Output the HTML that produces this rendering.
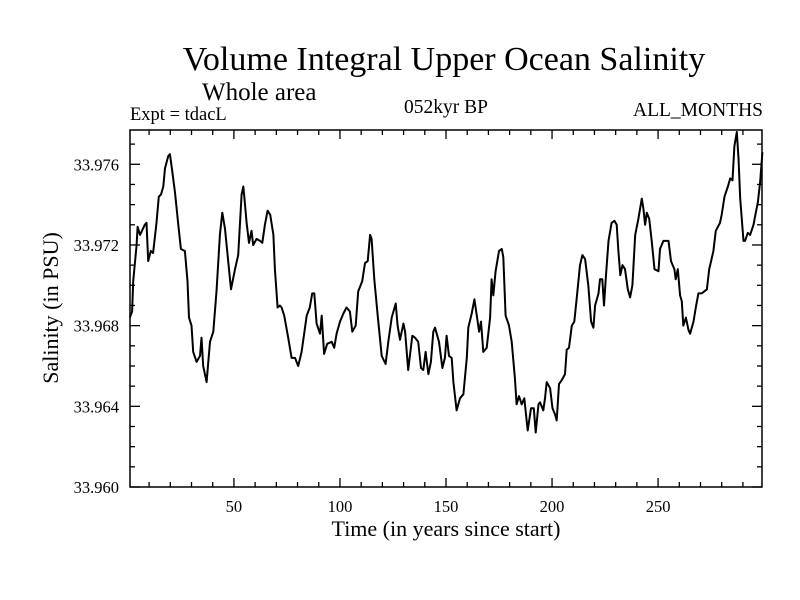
<!DOCTYPE html>
<html><head><meta charset="utf-8"><style>
html,body{margin:0;padding:0;background:#fff;}
svg{display:block;font-family:"Liberation Serif",serif;}
</style></head><body>
<svg id="chart" width="800" height="600">
<text x="444" y="70" font-size="34" text-anchor="middle">Volume Integral Upper Ocean Salinity</text>
<text x="202" y="100" font-size="25">Whole area</text>
<text x="130" y="120" font-size="18.5">Expt = tdacL</text>
<text x="446" y="113" font-size="19.5" text-anchor="middle">052kyr BP</text>
<text x="763" y="116" font-size="19.5" text-anchor="end">ALL_MONTHS</text>
<text x="446" y="536" font-size="22" text-anchor="middle">Time (in years since start)</text>
<text transform="translate(58,308) rotate(-90)" font-size="22" text-anchor="middle">Salinity (in PSU)</text>
<g id="axes"></g>
<path id="series" fill="none" stroke="#000" stroke-width="2" stroke-linejoin="round"></path>
<rect x="130" y="130" width="632" height="357" fill="none" stroke="#000" stroke-width="1.5"></rect>
</svg>
<script>
const years = [0.9,2.0,2.5,4.1,4.6,5.7,8.0,8.8,9.6,10.8,11.9,13.5,14.6,15.6,16.7,17.5,19.0,19.8,20.6,22.2,23.7,25.0,26.9,28.1,28.8,30.0,30.8,32.4,34.0,34.7,35.5,37.1,38.7,40.3,41.8,43.4,44.5,45.8,47.0,48.6,50.5,52.0,53.6,54.4,54.9,56.0,57.1,58.3,59.1,60.7,62.3,63.4,64.6,65.9,67.1,68.6,69.3,70.6,71.7,72.5,73.7,75.6,77.2,78.8,80.3,81.9,84.3,85.8,86.9,87.9,89.0,90.6,91.4,92.5,94.0,96.1,97.3,98.4,100.0,101.6,103.1,104.7,105.8,107.4,108.6,110.5,111.8,113.1,114.2,114.9,116.2,117.8,119.7,121.5,122.8,124.4,126.3,127.2,128.3,129.9,130.7,132.2,134.1,135.4,136.9,138.2,139.3,140.4,141.7,142.9,144.0,144.8,146.7,148.3,149.5,150.3,151.4,152.7,153.5,155.0,156.6,158.2,159.8,160.5,162.1,163.4,164.5,165.6,166.5,167.6,169.2,170.8,171.5,172.3,173.4,175.0,176.3,177.0,178.1,179.7,181.0,182.5,183.3,184.4,185.7,186.9,188.5,190.1,191.4,192.3,193.6,194.3,195.9,196.7,197.5,199.1,200.2,201.4,202.2,203.3,204.6,206.1,206.9,208.0,209.3,210.5,211.6,213.2,214.3,215.6,217.1,218.4,219.5,220.3,221.9,222.6,223.7,224.5,225.3,226.6,228.1,229.4,230.5,231.3,232.2,233.2,234.4,235.7,236.8,237.9,239.2,240.7,242.3,243.1,243.9,244.7,245.8,247.0,248.3,250.2,250.9,252.5,254.9,256.1,257.7,258.3,259.3,260.4,261.2,261.9,263.1,264.3,265.1,266.7,267.8,269.0,270.6,273.0,274.1,275.0,276.1,277.2,279.2,280.0,281.3,282.9,284.0,285.1,286.0,287.1,287.9,288.7,290.3,291.0,292.3,293.4,295.0,296.1,297.0,298.1,299.2];
const salinity = [33.9684,33.9687,33.9702,33.9720,33.9729,33.9725,33.9730,33.9731,33.9712,33.9717,33.9716,33.9731,33.9744,33.9745,33.9749,33.9758,33.9764,33.9765,33.9759,33.9746,33.9731,33.9718,33.9717,33.9702,33.9684,33.9680,33.9667,33.9662,33.9665,33.9674,33.9660,33.9652,33.9672,33.9677,33.9697,33.9725,33.9736,33.9728,33.9715,33.9698,33.9708,33.9715,33.9745,33.9749,33.9744,33.9731,33.9721,33.9727,33.9720,33.9723,33.9722,33.9721,33.9730,33.9737,33.9735,33.9725,33.9708,33.9689,33.9690,33.9689,33.9685,33.9674,33.9664,33.9664,33.9660,33.9667,33.9685,33.9689,33.9696,33.9696,33.9681,33.9676,33.9685,33.9666,33.9671,33.9672,33.9669,33.9676,33.9682,33.9686,33.9689,33.9687,33.9677,33.9680,33.9697,33.9702,33.9711,33.9712,33.9725,33.9723,33.9703,33.9685,33.9665,33.9661,33.9672,33.9684,33.9691,33.9680,33.9673,33.9681,33.9677,33.9658,33.9675,33.9674,33.9672,33.9659,33.9658,33.9667,33.9656,33.9662,33.9677,33.9679,33.9672,33.9659,33.9664,33.9675,33.9665,33.9664,33.9652,33.9638,33.9644,33.9646,33.9664,33.9679,33.9686,33.9693,33.9685,33.9677,33.9682,33.9667,33.9669,33.9684,33.9703,33.9695,33.9707,33.9717,33.9718,33.9714,33.9685,33.9680,33.9672,33.9654,33.9641,33.9645,33.9641,33.9644,33.9628,33.9639,33.9639,33.9627,33.9641,33.9642,33.9638,33.9644,33.9652,33.9649,33.9639,33.9636,33.9633,33.9651,33.9653,33.9656,33.9668,33.9669,33.9680,33.9682,33.9693,33.9710,33.9715,33.9713,33.9700,33.9682,33.9679,33.9690,33.9696,33.9703,33.9703,33.9690,33.9703,33.9722,33.9731,33.9732,33.9730,33.9717,33.9705,33.9710,33.9708,33.9698,33.9694,33.9700,33.9725,33.9733,33.9743,33.9738,33.9730,33.9736,33.9733,33.9722,33.9708,33.9707,33.9718,33.9722,33.9722,33.9712,33.9708,33.9703,33.9708,33.9695,33.9692,33.9680,33.9684,33.9678,33.9676,33.9682,33.9689,33.9696,33.9696,33.9698,33.9708,33.9712,33.9717,33.9727,33.9731,33.9735,33.9744,33.9749,33.9753,33.9752,33.9769,33.9776,33.9763,33.9743,33.9722,33.9722,33.9726,33.9725,33.9730,33.9736,33.9741,33.9751,33.9766];
const xTickLabels = [50,100,150,200,250];
const yTickLabels = ["33.960","33.964","33.968","33.972","33.976"];

const X0=130,X1=762,Y0=487,Y1=130;
const xMin=1,xMax=299,yMin=33.960,yMax=33.9777;
function xs(v){return X0+(v-xMin)/(xMax-xMin)*(X1-X0);}
function ys(v){return Y0-(v-yMin)/(yMax-yMin)*(Y0-Y1);}
const NS="http://www.w3.org/2000/svg";
const axes=document.getElementById('axes');
function line(x1,y1,x2,y2,name){
  const l=document.createElementNS(NS,'line');
  l.setAttribute('x1',x1);l.setAttribute('y1',y1);l.setAttribute('x2',x2);l.setAttribute('y2',y2);
  l.setAttribute('stroke','#000');l.setAttribute('stroke-width','1.3');
  
  
  axes.appendChild(l);
}
function text(x,y,s,anchor,name){
  const t=document.createElementNS(NS,'text');
  t.setAttribute('x',x);t.setAttribute('y',y);t.setAttribute('font-size','16.5');t.setAttribute('text-anchor',anchor);
  t.textContent=s;
  
  
  axes.appendChild(t);
}
for(let v=10;v<=290;v+=10){
  const x=xs(v);const major=v%50===0;const L=major?9:5;
  line(x,Y0,x,Y0-L,'x-tick');
  line(x,Y1,x,Y1+L,'x-tick-top');
}
xTickLabels.forEach(v=>text(xs(v),512,String(v),'middle','x-tick-label'));
for(let i=0;i<=17;i++){
  const v=33.960+i*0.001;const y=ys(v);const major=i%4===0;const L=major?10:5;
  line(X0,y,X0+L,y,'y-tick');
  line(X1,y,X1-L,y,'y-tick-right');
}
yTickLabels.forEach(s=>text(119,ys(parseFloat(s))+6,s,'end','y-tick-label'));
let d='';
years.forEach((yr,i)=>{d+=(i?'L':'M')+xs(yr).toFixed(1)+','+ys(salinity[i]).toFixed(1);});
document.getElementById('series').setAttribute('d',d);
</script>
</body></html>
